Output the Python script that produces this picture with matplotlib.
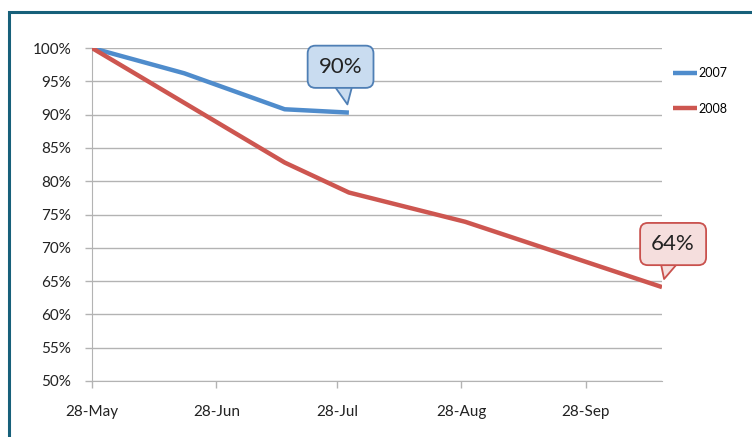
import matplotlib.pyplot as plt
import matplotlib.dates as mdates
from matplotlib.patches import Rectangle
from datetime import datetime

# (same calendar year used for both seasons)
dates_2007 = ["2008-05-28", "2008-06-20", "2008-07-15", "2008-07-31"]
vals_2007 = [100.0, 96.2, 90.8, 90.3]
dates_2008 = ["2008-05-28", "2008-07-15", "2008-07-31", "2008-08-29", "2008-10-17"]
vals_2008 = [100.0, 82.8, 78.3, 73.9, 64.1]
tick_dates = ["2008-05-28", "2008-06-28", "2008-07-28", "2008-08-28", "2008-09-28"]
label_2007 = "90%"
label_2008 = "64%"

blue = "#4f8ccc"
red = "#cd5650"
grid_c = "#b3b3b3"

def to_dt(lst):
    return [datetime.strptime(d, "%Y-%m-%d") for d in lst]

plt.rcParams['font.family'] = ['Lato', 'DejaVu Sans']

fig = plt.figure(figsize=(7.52, 4.37), dpi=100)
fig.patch.set_facecolor("white")
ax = fig.add_axes([92/752, 1-381/437, 570/752, 333/437])

# teal frame around the chart (clipped at right and bottom)
fig.patches.append(Rectangle((9/752, -0.2), 1.2, 1.2 - 12/437, transform=fig.transFigure,
                             fill=False, ec="#17607a", lw=2.2, zorder=0))

x07 = to_dt(dates_2007)
x08 = to_dt(dates_2008)
l1, = ax.plot(x07, vals_2007, color=blue, lw=3.2, solid_capstyle="butt", label="2007", zorder=3)
l2, = ax.plot(x08, vals_2008, color=red, lw=3.2, solid_capstyle="butt", label="2008", zorder=3)

ax.set_ylim(50, 100)
ax.set_xlim(x08[0], x08[-1])
ax.set_yticks(range(50, 101, 5))
ax.set_yticklabels([f"{v}%" for v in range(50, 101, 5)])
ax.set_xticks(to_dt(tick_dates))
ax.xaxis.set_major_formatter(mdates.DateFormatter("%d-%b"))

ax.grid(axis="y", color=grid_c, lw=1)
ax.set_axisbelow(True)
for s in ["top", "right"]:
    ax.spines[s].set_visible(False)
ax.spines["left"].set_color(grid_c)
ax.spines["bottom"].set_color(grid_c)
ax.tick_params(axis="x", colors=grid_c, length=5, width=1, pad=12, labelcolor="#222222", labelsize=11)
ax.tick_params(axis="y", colors=grid_c, length=5, width=1, pad=10, labelcolor="#222222", labelsize=11)

# callouts: the wedge starts at the text centre, the box is drawn over it
def callout(x, y, text, off, fc, ec):
    ax.annotate(text, xy=(x, y), xytext=off, textcoords="offset points",
                ha="center", va="center", fontsize=16, color="#222222",
                bbox=dict(boxstyle="round,pad=0.5,rounding_size=0.35", fc=fc, ec=ec, lw=1.3),
                arrowprops=dict(arrowstyle="wedge,tail_width=1.6,shrink_factor=0.5", fc=fc,
                                ec=ec, lw=1.3, patchA=None, shrinkA=0, shrinkB=6),
                zorder=5, annotation_clip=False)

callout(x07[-1], vals_2007[-1], label_2007, (-6, 33), "#c9dcf0", "#4f7fb5")
callout(x08[-1], vals_2008[-1], label_2008, (8, 31), "#f5dedd", "#c9514d")

leg = fig.legend(handles=[l1, l2], loc="upper left", bbox_to_anchor=(668/752, 1-62/437),
                 frameon=False, fontsize=9, handlelength=1.9, handletextpad=0.1,
                 labelspacing=1.9, borderaxespad=0)

fig.savefig("out.png", dpi=100)
